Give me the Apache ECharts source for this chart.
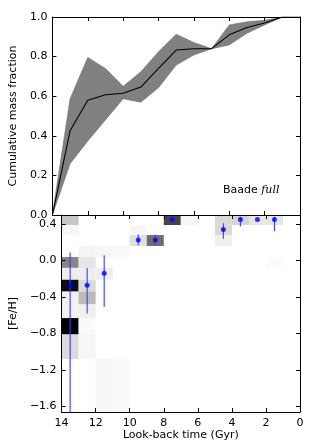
<!DOCTYPE html>
<html>
<head>
<meta charset="utf-8">
<style>
html,body{margin:0;padding:0;background:#fff;}
#chart{width:316px;height:443px;}
</style>
<script src="https://cdn.jsdelivr.net/npm/echarts@6/dist/echarts.min.js"></script>
</head>
<body>
<div id="chart"></div>
<script>
// ---- top panel: cumulative mass fraction ----
const cumAge   = [14, 13, 12, 11, 10, 9, 8, 7, 6, 5, 4, 3, 2, 1, 0];
const cumMed   = [0.0, 0.425, 0.58, 0.607, 0.615, 0.646, 0.74, 0.833, 0.84, 0.84, 0.91, 0.947, 0.97, 1.0, 1.0];
const cumUpper = [0.0, 0.587, 0.796, 0.74, 0.65, 0.723, 0.825, 0.913, 0.871, 0.84, 0.96, 0.976, 0.983, 1.0, 1.0];
const cumLower = [0.0, 0.259, 0.374, 0.48, 0.587, 0.57, 0.643, 0.757, 0.808, 0.84, 0.859, 0.918, 0.96, 1.0, 1.0];
const cumTicks = [0, 0.2, 0.4, 0.6, 0.8, 1.0];

// ---- bottom panel: age-metallicity map ----
const fehEdges = [-1.66, -1.08, -0.81, -0.63, -0.48, -0.34, -0.21, -0.08, 0.04, 0.16, 0.28, 0.39, 0.5];
// [age bin lower edge (Gyr), metallicity bin index, weight 0..1]
const cells = [
  [13, 11, 0.22], [13, 10, 0.03], [13, 7, 0.47], [13, 6, 0.07], [13, 5, 0.95],
  [13, 4, 0.06], [13, 3, 0.05], [13, 2, 1.0], [13, 1, 0.14],
  [12, 8, 0.04], [12, 7, 0.10], [12, 6, 0.07], [12, 5, 0.15], [12, 4, 0.27],
  [12, 3, 0.06], [12, 2, 0.02], [12, 1, 0.03],
  [11, 8, 0.035], [11, 6, 0.07], [11, 0, 0.03],
  [10, 8, 0.025], [10, 0, 0.02],
  [9, 10, 0.03], [9, 9, 0.12],
  [8, 9, 0.57],
  [7, 11, 0.73],
  [6, 11, 0.03],
  [4, 11, 0.15], [4, 10, 0.15], [4, 9, 0.06],
  [3, 11, 0.17],
  [2, 11, 0.10],
  [1, 11, 0.10], [1, 7, 0.015]
];
const ptAge   = [13.5, 12.5, 11.5, 9.5, 8.5, 7.5, 4.5, 3.5, 2.5, 1.5];
const ptFeh   = [-0.27, -0.27, -0.14, 0.225, 0.225, 0.45, 0.34, 0.45, 0.45, 0.45];
const ptErrLo = [-1.9, -0.58, -0.505, 0.168, 0.168, 0.45, 0.24, 0.378, 0.45, 0.323];
const ptErrHi = [0.09, -0.08, 0.06, 0.285, 0.285, 0.45, 0.41, 0.48, 0.45, 0.48];
const fehTicks = [-1.6, -1.2, -0.8, -0.4, 0.0, 0.4];
const ageTicks = [0, 2, 4, 6, 8, 10, 12, 14];

const FONT = 'DejaVu Sans';
const fmt1 = v => (v < 0 ? '\u2212' : '') + Math.abs(v).toFixed(1);

const chart = echarts.init(document.getElementById('chart'), null, {renderer: 'canvas'});

function xAx(grid, pos, labels, name) {
  return {
    type: 'value', gridIndex: grid, position: pos, inverse: true,
    min: 0, max: 14, interval: 2, z: 5,
    axisLine: {show: true, onZero: false, lineStyle: {color: '#000', width: 1}},
    axisTick: {show: true, inside: true, length: 4, lineStyle: {color: '#000', width: 1}},
    axisLabel: {show: labels, color: '#000', fontFamily: FONT, fontSize: 11, margin: 6,
                formatter: v => String(v)},
    splitLine: {show: false},
    name: name || '', nameLocation: 'middle', nameGap: 17,
    nameTextStyle: {color: '#000', fontFamily: FONT, fontSize: 11}
  };
}
function yAx(grid, pos, labels, opts) {
  return Object.assign({
    type: 'value', gridIndex: grid, position: pos, z: 5,
    axisLine: {show: true, onZero: false, lineStyle: {color: '#000', width: 1}},
    splitLine: {show: false},
    nameLocation: 'middle', nameGap: 30,
    nameTextStyle: {color: '#000', fontFamily: FONT, fontSize: 11}
  }, opts);
}

const option = {
  backgroundColor: '#fff',
  animation: false,
  grid: [
    {left: 47, right: 16, top: 17, height: 198},
    {left: 47, right: 16, top: 215, height: 197}
  ],
  xAxis: [
    xAx(0, 'bottom', false),
    xAx(0, 'top', false),
    xAx(1, 'bottom', true, 'Look-back time (Gyr)'),
    xAx(1, 'top', false)
  ],
  yAxis: [
    yAx(0, 'left', true, {
      min: 0, max: 1, interval: 0.2, name: 'Cumulative mass fraction',
      axisTick: {show: true, inside: true, length: 4, lineStyle: {color: '#000'}},
      axisLabel: {show: true, color: '#000', fontFamily: FONT, fontSize: 11, margin: 5,
                  showMinLabel: true, showMaxLabel: true, formatter: v => v.toFixed(1)}
    }),
    yAx(0, 'right', false, {
      min: 0, max: 1, interval: 0.2,
      axisTick: {show: true, inside: true, length: 4, lineStyle: {color: '#000'}},
      axisLabel: {show: false}
    }),
    yAx(1, 'left', true, {
      min: -1.66, max: 0.5, name: '[Fe/H]',
      axisTick: {show: true, inside: true, length: 4, customValues: fehTicks, lineStyle: {color: '#000'}},
      axisLabel: {show: true, color: '#000', fontFamily: FONT, fontSize: 11, margin: 5,
                  customValues: fehTicks, formatter: fmt1}
    }),
    yAx(1, 'right', false, {
      min: -1.66, max: 0.5,
      axisTick: {show: true, inside: true, length: 4, customValues: fehTicks, lineStyle: {color: '#000'}},
      axisLabel: {show: false, customValues: fehTicks}
    })
  ],
  graphic: [{
    type: 'text', left: 223, top: 185, z: 10,
    style: {
      rich: {
        a: {fontFamily: FONT, fontSize: 11, fill: '#000'},
        b: {fontFamily: 'DejaVu Serif', fontStyle: 'italic', fontSize: 11, fill: '#000'}
      },
      text: '{a|Baade }{b|full}'
    }
  }],
  series: [
    {
      type: 'custom', xAxisIndex: 0, yAxisIndex: 0, z: 2, clip: true,
      data: [[cumAge[0], cumLower[0]]],
      renderItem: function (params, api) {
        const pts = [];
        for (let i = 0; i < cumAge.length; i++) pts.push(api.coord([cumAge[i], cumUpper[i]]));
        for (let i = cumAge.length - 1; i >= 0; i--) pts.push(api.coord([cumAge[i], cumLower[i]]));
        return {type: 'polygon', shape: {points: pts},
                style: {fill: '#808080', stroke: '#6e6e6e', lineWidth: 0.6}};
      }
    },
    {
      type: 'line', xAxisIndex: 0, yAxisIndex: 0, z: 3,
      data: cumAge.map((a, i) => [a, cumMed[i]]),
      showSymbol: false, symbol: 'none',
      lineStyle: {color: '#000', width: 1.1}
    },
    {
      type: 'custom', xAxisIndex: 2, yAxisIndex: 2, z: 1, clip: true,
      data: cells,
      renderItem: function (params, api) {
        const c = cells[params.dataIndex];
        const p0 = api.coord([c[0] + 1, fehEdges[c[1] + 1]]);
        const p1 = api.coord([c[0], fehEdges[c[1]]]);
        const g = Math.round(255 * (1 - c[2]));
        return {
          type: 'rect',
          shape: {x: Math.min(p0[0], p1[0]), y: Math.min(p0[1], p1[1]),
                  width: Math.abs(p1[0] - p0[0]), height: Math.abs(p1[1] - p0[1])},
          style: {fill: 'rgb(' + g + ',' + g + ',' + g + ')'}
        };
      }
    },
    {
      type: 'custom', xAxisIndex: 2, yAxisIndex: 2, z: 3, clip: true,
      data: ptAge.map((a, i) => [a, ptErrLo[i], ptErrHi[i]]),
      renderItem: function (params, api) {
        const i = params.dataIndex;
        const a = api.coord([ptAge[i], ptErrLo[i]]);
        const b = api.coord([ptAge[i], ptErrHi[i]]);
        return {type: 'line', shape: {x1: a[0], y1: a[1], x2: b[0], y2: b[1]},
                style: {stroke: '#3a3aff', lineWidth: 1.1}};
      }
    },
    {
      type: 'scatter', xAxisIndex: 2, yAxisIndex: 2, z: 4,
      data: ptAge.map((a, i) => [a, ptFeh[i]]),
      symbol: 'circle', symbolSize: 5,
      itemStyle: {color: '#0000ff'}
    }
  ]
};
chart.setOption(option);
</script>
</body>
</html>
